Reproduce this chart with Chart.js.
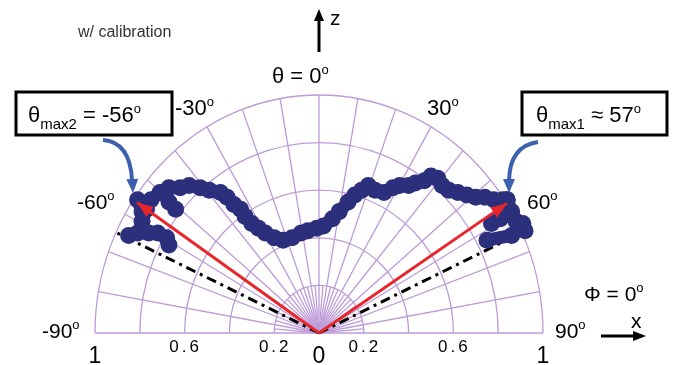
<!DOCTYPE html>
<html>
<head>
<meta charset="utf-8">
<script src="https://cdn.jsdelivr.net/npm/chart.js@4.4.0/dist/chart.umd.min.js"></script>
<style>
  html, body { margin: 0; padding: 0; background: #fff; }
  #contenedor { width: 688px; height: 365px; }
</style>
</head>
<body>
<div id="contenedor"><canvas id="grafico" width="688" height="365"></canvas></div>
<script>
// Datos medidos (x = r·sin θ, z = r·cos θ, intensidad normalizada)
const trazoX = [-0.81, -0.79, -0.79, -0.77, -0.75, -0.71, -0.67, -0.62, -0.58, -0.53, -0.49, -0.44, -0.41, -0.38, -0.35, -0.33, -0.30, -0.27, -0.24, -0.20, -0.16, -0.12, -0.08, -0.05, -0.01, 0.02, 0.06, 0.09, 0.13, 0.16, 0.19, 0.22, 0.25, 0.29, 0.33, 0.36, 0.40, 0.43, 0.47, 0.50, 0.53, 0.55, 0.58, 0.62, 0.66, 0.70, 0.74, 0.78, 0.82, 0.84];
const trazoZ = [0.56, 0.51, 0.47, 0.52, 0.56, 0.59, 0.61, 0.61, 0.62, 0.61, 0.60, 0.59, 0.57, 0.54, 0.52, 0.49, 0.46, 0.44, 0.42, 0.40, 0.39, 0.40, 0.42, 0.43, 0.44, 0.45, 0.48, 0.51, 0.55, 0.58, 0.60, 0.62, 0.60, 0.59, 0.61, 0.62, 0.62, 0.63, 0.64, 0.66, 0.65, 0.62, 0.60, 0.59, 0.58, 0.57, 0.57, 0.56, 0.56, 0.56];

const ramaX = [-0.67, -0.64];
const ramaZ = [0.55, 0.52];

const izqX = [-0.85, -0.81, -0.76, -0.72, -0.68, -0.67];
const izqZ = [0.41, 0.42, 0.42, 0.42, 0.40, 0.37];

const derX = [0.84, 0.86, 0.88, 0.91, 0.92];
const derZ = [0.56, 0.51, 0.47, 0.46, 0.43];

const der2X = [0.77, 0.81, 0.85];
const der2Z = [0.46, 0.48, 0.50];

const der3X = [0.75, 0.86];
const der3Z = [0.39, 0.41];

// Rejilla polar
const anillos = [0.2, 0.4, 0.6, 0.8, 1];
const radios = [-90, -80, -70, -60, -50, -40, -30, -20, -10, 0, 10, 20, 30, 40, 50, 60, 70, 80, 90];
const radiosFinos = [-85, -75, -65, -55, -45, -35, -25, -15, -5, 5, 15, 25, 35, 45, 55, 65, 75, 85];
const ticksX = [-1, -0.6, -0.2, 0, 0.2, 0.6, 1];

// Líneas de referencia y máximos
const angulosRef = [-65, 65];
const angulosMax = [-56, 57];
const radiosMax = [0.98, 1.0];

const AZUL = '#2c2f7c';
const ROJO = '#e8262a';
const FUENTE = '"Liberation Sans", Arial, sans-serif';

function polar(ang, r) {
    const a = ang * Math.PI / 180;
    return { x: r * Math.sin(a), y: r * Math.cos(a) };
}

function puntos(xs, zs) {
    return xs.map((x, i) => ({ x: x, y: zs[i] }));
}

function trazo(xs, zs) {
    return {
        data: puntos(xs, zs),
        showLine: true,
        borderColor: AZUL,
        borderWidth: 13,
        borderCapStyle: 'round',
        borderJoinStyle: 'round',
        backgroundColor: AZUL,
        pointRadius: 8.5,
        pointHoverRadius: 8.5,
        pointBorderWidth: 0,
        clip: false,
    };
}

const datasets = [];

// flechas rojas (arriba de todo)
angulosMax.forEach((ang, i) => {
    datasets.push({
        data: [{ x: 0, y: 0 }, polar(ang, radiosMax[i])],
        showLine: true,
        borderColor: ROJO,
        borderWidth: 3,
        pointRadius: 0,
        clip: false,
    });
});

datasets.push(trazo(trazoX, trazoZ));
datasets.push(trazo(ramaX, ramaZ));
datasets.push(trazo(izqX, izqZ));
datasets.push(trazo(derX, derZ));
datasets.push(trazo(der2X, der2Z));
datasets.push(trazo(der3X, der3Z));

// líneas punto-raya
angulosRef.forEach(ang => {
    datasets.push({
        data: [{ x: 0, y: 0 }, polar(ang, 1)],
        showLine: true,
        borderColor: '#000',
        borderWidth: 3,
        borderDash: [10, 5, 3, 5],
        pointRadius: 0,
        clip: false,
    });
});

// Dibuja texto con partes (subíndices / superíndices)
function partes(ctx, x, y, lista, color) {
    ctx.fillStyle = color || '#000';
    ctx.textAlign = 'left';
    ctx.textBaseline = 'alphabetic';
    let cx = x;
    lista.forEach(([txt, tam, dy]) => {
        ctx.font = tam + 'px ' + FUENTE;
        ctx.fillText(txt, cx, y + dy);
        cx += ctx.measureText(txt).width;
    });
}

function punta(ctx, tipX, tipY, dirX, dirY, largo, ancho, color) {
    const n = Math.hypot(dirX, dirY);
    const ux = dirX / n, uy = dirY / n;
    const bx = tipX - ux * largo, by = tipY - uy * largo;
    ctx.fillStyle = color;
    ctx.beginPath();
    ctx.moveTo(tipX, tipY);
    ctx.lineTo(bx - uy * ancho, by + ux * ancho);
    ctx.lineTo(bx + uy * ancho, by - ux * ancho);
    ctx.closePath();
    ctx.fill();
}

const rejillaPlugin = {
    id: 'rejilla',
    beforeDatasetsDraw(chart) {
        const ctx = chart.ctx;
        const xs = chart.scales.x, ys = chart.scales.y;
        const cx = xs.getPixelForValue(0), cy = ys.getPixelForValue(0);
        ctx.save();
        ctx.strokeStyle = 'rgb(188,155,215)';
        ctx.lineWidth = 1.3;
        anillos.forEach(r => {
            const rx = xs.getPixelForValue(r) - cx;
            const ry = cy - ys.getPixelForValue(r);
            ctx.beginPath();
            ctx.ellipse(cx, cy, rx, ry, 0, Math.PI, 2 * Math.PI);
            ctx.stroke();
        });
        radios.forEach(ang => {
            const p = polar(ang, 1);
            ctx.beginPath();
            ctx.moveTo(cx, cy);
            ctx.lineTo(xs.getPixelForValue(p.x), ys.getPixelForValue(p.y));
            ctx.stroke();
        });
        radiosFinos.forEach(ang => {
            const p = polar(ang, anillos[0]);
            ctx.beginPath();
            ctx.moveTo(cx, cy);
            ctx.lineTo(xs.getPixelForValue(p.x), ys.getPixelForValue(p.y));
            ctx.stroke();
        });
        ctx.restore();
    },
    afterDatasetsDraw(chart) {
        const ctx = chart.ctx;
        const xs = chart.scales.x, ys = chart.scales.y;
        const cx = xs.getPixelForValue(0), cy = ys.getPixelForValue(0);
        ctx.save();

        // puntas de las flechas rojas
        angulosMax.forEach((ang, i) => {
            const p = polar(ang, radiosMax[i]);
            const px = xs.getPixelForValue(p.x), py = ys.getPixelForValue(p.y);
            punta(ctx, px, py, px - cx, py - cy, 16, 6, ROJO);
        });

        // etiquetas del eje radial
        ctx.textAlign = 'center';
        ctx.fillStyle = '#000';
        ticksX.forEach(t => {
            const px = xs.getPixelForValue(t);
            const etiqueta = String(Math.abs(t));
            if (Math.abs(t) === 1 || t === 0) {
                ctx.font = '23px ' + FUENTE;
                ctx.letterSpacing = '0px';
                ctx.fillText(etiqueta, px, 363);
            } else {
                ctx.font = '17px ' + FUENTE;
                ctx.letterSpacing = '3px';
                ctx.fillText(etiqueta, px + 1, 352);
            }
        });
        ctx.letterSpacing = '0px';

        // textos
        partes(ctx, 78, 37, [['w/ calibration', 16, 0]], '#333');
        partes(ctx, 272, 83, [['θ = 0', 22, 0], ['o', 13, -9]]);
        partes(ctx, 175, 115, [['-30', 22, 0], ['o', 13, -9]]);
        partes(ctx, 427, 115, [['30', 22, 0], ['o', 13, -9]]);
        partes(ctx, 77, 209, [['-60', 21, 0], ['o', 13, -9]]);
        partes(ctx, 527, 209, [['60', 21, 0], ['o', 13, -9]]);
        partes(ctx, 42, 338, [['-90', 21, 0], ['o', 13, -9]]);
        partes(ctx, 555, 338, [['90', 21, 0], ['o', 13, -9]]);
        partes(ctx, 584, 301, [['Φ = 0', 21, 0], ['o', 13, -9]]);
        partes(ctx, 631, 328, [['x', 21, 0]]);
        partes(ctx, 330, 25, [['z', 21, 0]]);

        // cajas
        ctx.strokeStyle = '#000';
        ctx.lineWidth = 3;
        ctx.strokeRect(16, 92, 156, 43);
        ctx.strokeRect(522, 92, 145, 43);
        partes(ctx, 28, 122, [['θ', 22, 0], ['max2', 15, 7], [' = -56', 22, 0], ['o', 13, -9]]);
        partes(ctx, 536, 122, [['θ', 22, 0], ['max1', 15, 7], [' ≈ 57', 22, 0], ['o', 13, -9]]);

        // flechas de ejes
        ctx.lineWidth = 3;
        ctx.beginPath();
        ctx.moveTo(319, 52);
        ctx.lineTo(319, 20);
        ctx.stroke();
        punta(ctx, 319, 9, 0, -1, 12, 5, '#000');
        ctx.beginPath();
        ctx.moveTo(601, 336);
        ctx.lineTo(633, 336);
        ctx.stroke();
        punta(ctx, 646, 336, 1, 0, 13, 5, '#000');

        // flechas azules curvas
        const azulFlecha = '#3c5fae';
        ctx.strokeStyle = azulFlecha;
        ctx.lineWidth = 4;
        ctx.beginPath();
        ctx.moveTo(103, 140);
        ctx.quadraticCurveTo(130, 142, 132, 180);
        ctx.stroke();
        punta(ctx, 133, 193, 0.05, 1, 14, 6, azulFlecha);
        ctx.beginPath();
        ctx.moveTo(538, 142);
        ctx.quadraticCurveTo(510, 146, 509, 180);
        ctx.stroke();
        punta(ctx, 509, 193, 0, 1, 14, 6, azulFlecha);

        ctx.restore();
    },
};

new Chart(document.getElementById('grafico'), {
    type: 'scatter',
    data: { datasets: datasets },
    options: {
        responsive: false,
        animation: false,
        layout: { padding: { left: 95, right: 145, top: 95, bottom: 32 } },
        plugins: { legend: { display: false }, tooltip: { enabled: false } },
        scales: {
            x: { type: 'linear', min: -1, max: 1, display: false },
            y: { type: 'linear', min: 0, max: 1, display: false },
        },
        elements: { line: { tension: 0 } },
    },
    plugins: [rejillaPlugin],
});
</script>
</body>
</html>
